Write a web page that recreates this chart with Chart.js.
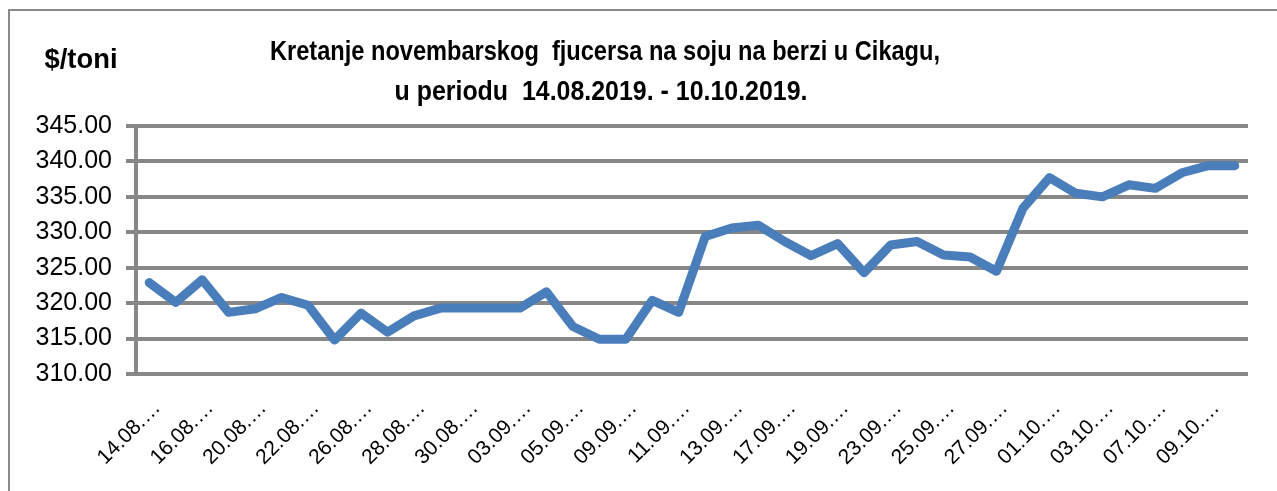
<!DOCTYPE html>
<html>
<head>
<meta charset="utf-8">
<script src="https://cdn.jsdelivr.net/npm/chart.js@4"></script>
<style>
html,body{margin:0;padding:0;background:#fff;overflow:hidden;}
#wrap{position:relative;width:1277px;height:491px;overflow:hidden;}
#frame{position:absolute;left:8px;top:9px;width:1300px;height:500px;border-top:2px solid #8a8a8a;border-left:2px solid #8a8a8a;}
canvas{position:absolute;left:0;top:0;}
</style>
</head>
<body>
<div id="wrap"><div id="frame"></div><canvas id="c" width="1277" height="491"></canvas></div>
<script>
const categories = ["14.08.2019.","15.08.2019.","16.08.2019.","19.08.2019.","20.08.2019.","21.08.2019.","22.08.2019.","23.08.2019.","26.08.2019.","27.08.2019.","28.08.2019.","29.08.2019.","30.08.2019.","02.09.2019.","03.09.2019.","04.09.2019.","05.09.2019.","06.09.2019.","09.09.2019.","10.09.2019.","11.09.2019.","12.09.2019.","13.09.2019.","16.09.2019.","17.09.2019.","18.09.2019.","19.09.2019.","20.09.2019.","23.09.2019.","24.09.2019.","25.09.2019.","26.09.2019.","27.09.2019.","30.09.2019.","01.10.2019.","02.10.2019.","03.10.2019.","04.10.2019.","07.10.2019.","08.10.2019.","09.10.2019.","10.10.2019."];
const prices = [322.9,320.1,323.3,318.7,319.2,320.8,319.7,314.8,318.6,315.9,318.2,319.3,319.3,319.3,319.3,321.6,316.7,314.9,314.9,320.4,318.7,329.4,330.6,331.0,328.7,326.7,328.4,324.3,328.2,328.7,326.8,326.5,324.5,333.4,337.7,335.5,335.0,336.7,336.2,338.4,339.4,339.4];
const yTicks = [310,315,320,325,330,335,340,345];
const titleLines = ["Kretanje novembarskog  fjucersa na soju na berzi u Cikagu,", "u periodu  14.08.2019. - 10.10.2019."];
const unitLabel = "$/toni";

const textPlugin = {
  id: 'texts',
  afterDraw(chart) {
    const ctx = chart.ctx;
    function fit(text, cx, cy, w, size) {
      ctx.save();
      ctx.font = 'bold ' + size + 'px "Liberation Sans Narrow", "Liberation Sans", Arial, sans-serif';
      ctx.fillStyle = '#000';
      ctx.textAlign = 'center';
      ctx.textBaseline = 'middle';
      const m = ctx.measureText(text).width;
      ctx.translate(cx, cy);
      ctx.scale(w / m, 1);
      ctx.fillText(text, 0, 0);
      ctx.restore();
    }
    fit(titleLines[0], 605, 52, 670, 28);
    fit(titleLines[1], 601, 92, 413, 28);
    fit(unitLabel, 81, 60, 73, 28);
  }
};

new Chart(document.getElementById('c'), {
  type: 'line',
  data: {
    labels: categories,
    datasets: [{
      data: prices,
      borderColor: '#4a7ebb',
      borderWidth: 9,
      borderCapStyle: 'round',
      borderJoinStyle: 'round',
      pointRadius: 0,
      tension: 0,
      fill: false
    }]
  },
  options: {
    responsive: false,
    animation: false,
    devicePixelRatio: 1,
    layout: { padding: { left: 0, right: 29, top: 126, bottom: 0 } },
    plugins: { legend: { display: false }, title: { display: false }, tooltip: { enabled: false } },
    scales: {
      x: {
        offset: true,
        grid: { display: false },
        border: { display: false },
        afterFit(s) { s.height = 117; },
        ticks: {
          autoSkip: false,
          minRotation: 45,
          maxRotation: 45,
          padding: 14,
          labelOffset: 8,
          color: '#000',
          font: { family: '"Liberation Sans", Arial, sans-serif', size: 21 },
          callback(v, i) { return i % 2 === 0 ? categories[i].slice(0, 6) + '\u2026' : ''; }
        }
      },
      y: {
        min: 310,
        max: 345,
        afterFit(s) { s.width = 136; },
        afterBuildTicks(s) { s.ticks = yTicks.map(v => ({ value: v })); },
        grid: { color: '#878787', lineWidth: 4, tickLength: 10, drawTicks: true },
        border: { display: true, color: '#878787', width: 4 },
        ticks: {
          padding: 14,
          color: '#000',
          font: { family: '"Liberation Sans", Arial, sans-serif', size: 25 },
          callback(v) { return Number(v).toFixed(2); }
        }
      }
    }
  },
  plugins: [textPlugin]
});
</script>
</body>
</html>
